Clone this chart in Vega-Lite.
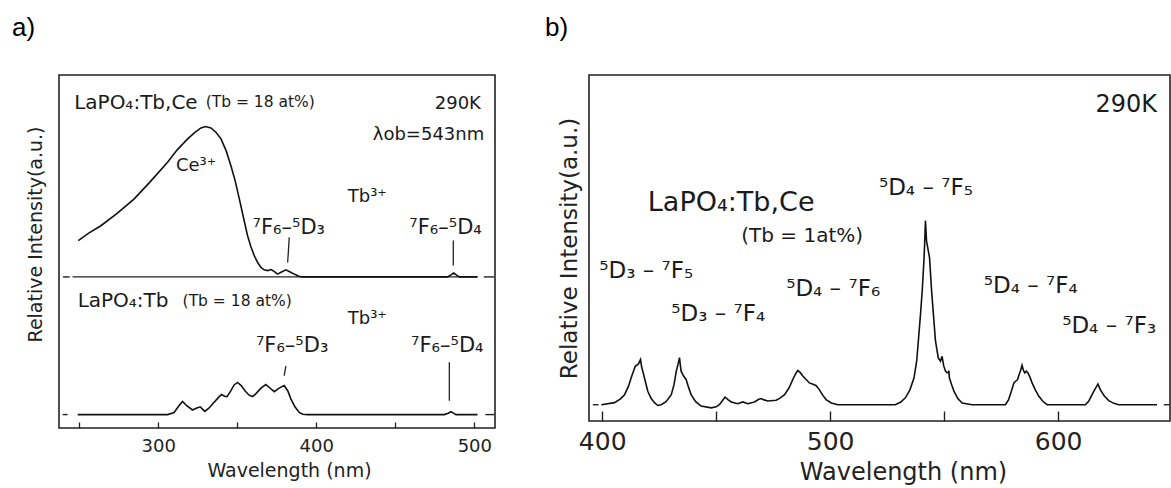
{
  "$schema": "https://vega.github.io/schema/vega-lite/v6.json",
  "padding": {"left": 11, "top": 14, "right": 0, "bottom": 0},
  "spacing": 48,
  "config": {
    "view": {"stroke": "#222", "strokeWidth": 1.6},
    "font": "DejaVu Sans",
    "axis": {"domain": false, "grid": false, "labelColor": "#222", "titleColor": "#222", "tickColor": "#222", "titleFontWeight": "normal", "labelFont": "DejaVu Sans", "titleFont": "DejaVu Sans"},
    "text": {"color": "#1a1a1a", "font": "DejaVu Sans"},
    "title": {"font": "Liberation Sans", "fontSize": 26, "fontWeight": "normal", "color": "#000", "anchor": "start", "frame": "bounds", "baseline": "alphabetic", "offset": 34}
  },
  "datasets": {
    "aspec": [
      {"s": "TbCe", "nm": 249.4, "v": 53.1}, {"s": "TbCe", "nm": 256, "v": 55.2}, {"s": "TbCe", "nm": 263.7, "v": 57.3}, {"s": "TbCe", "nm": 274, "v": 60.8}, {"s": "TbCe", "nm": 284.8, "v": 64.9}, {"s": "TbCe", "nm": 295, "v": 69.8}, {"s": "TbCe", "nm": 305.9, "v": 75.3}, {"s": "TbCe", "nm": 312, "v": 78.8}, {"s": "TbCe", "nm": 318.6, "v": 81.9}, {"s": "TbCe", "nm": 323, "v": 83.7}, {"s": "TbCe", "nm": 327, "v": 85.0}, {"s": "TbCe", "nm": 330, "v": 85.4}, {"s": "TbCe", "nm": 333.3, "v": 85.0}, {"s": "TbCe", "nm": 336.5, "v": 83.8}, {"s": "TbCe", "nm": 339.7, "v": 81.9}, {"s": "TbCe", "nm": 343, "v": 78.5}, {"s": "TbCe", "nm": 346, "v": 74.3}, {"s": "TbCe", "nm": 348.8, "v": 69.8}, {"s": "TbCe", "nm": 351.3, "v": 64.9}, {"s": "TbCe", "nm": 354, "v": 59.5}, {"s": "TbCe", "nm": 356.5, "v": 54.5}, {"s": "TbCe", "nm": 358.7, "v": 51.3}, {"s": "TbCe", "nm": 360.8, "v": 48.8}, {"s": "TbCe", "nm": 363, "v": 46.8}, {"s": "TbCe", "nm": 365, "v": 45.5}, {"s": "TbCe", "nm": 367, "v": 44.8}, {"s": "TbCe", "nm": 369.2, "v": 44.6}, {"s": "TbCe", "nm": 371.5, "v": 44.9}, {"s": "TbCe", "nm": 373.5, "v": 44.3}, {"s": "TbCe", "nm": 375.5, "v": 43.6}, {"s": "TbCe", "nm": 378, "v": 44.2}, {"s": "TbCe", "nm": 380.8, "v": 44.8}, {"s": "TbCe", "nm": 383.5, "v": 44.2}, {"s": "TbCe", "nm": 386, "v": 43.6}, {"s": "TbCe", "nm": 389, "v": 43.0}, {"s": "TbCe", "nm": 391.4, "v": 42.8}, {"s": "TbCe", "nm": 483, "v": 42.8}, {"s": "TbCe", "nm": 485, "v": 43.3}, {"s": "TbCe", "nm": 487, "v": 43.9}, {"s": "TbCe", "nm": 488.8, "v": 43.3}, {"s": "TbCe", "nm": 490.5, "v": 42.8}, {"s": "TbCe", "nm": 502, "v": 42.8},
      {"s": "Tb", "nm": 249, "v": 3.8}, {"s": "Tb", "nm": 306, "v": 3.8}, {"s": "Tb", "nm": 310, "v": 4.4}, {"s": "Tb", "nm": 313, "v": 6.2}, {"s": "Tb", "nm": 315.4, "v": 7.5}, {"s": "Tb", "nm": 318, "v": 6.3}, {"s": "Tb", "nm": 321.7, "v": 5.1}, {"s": "Tb", "nm": 324, "v": 5.6}, {"s": "Tb", "nm": 326.6, "v": 6.0}, {"s": "Tb", "nm": 329.5, "v": 4.7}, {"s": "Tb", "nm": 332, "v": 5.6}, {"s": "Tb", "nm": 335.4, "v": 7.3}, {"s": "Tb", "nm": 338, "v": 8.6}, {"s": "Tb", "nm": 340, "v": 9.5}, {"s": "Tb", "nm": 342, "v": 9.0}, {"s": "Tb", "nm": 343.5, "v": 8.9}, {"s": "Tb", "nm": 346, "v": 10.6}, {"s": "Tb", "nm": 348, "v": 12.2}, {"s": "Tb", "nm": 350.2, "v": 12.9}, {"s": "Tb", "nm": 352.5, "v": 12.0}, {"s": "Tb", "nm": 355, "v": 10.5}, {"s": "Tb", "nm": 357.5, "v": 9.3}, {"s": "Tb", "nm": 359.7, "v": 8.9}, {"s": "Tb", "nm": 362, "v": 9.8}, {"s": "Tb", "nm": 365, "v": 11.3}, {"s": "Tb", "nm": 368.1, "v": 12.3}, {"s": "Tb", "nm": 370.5, "v": 11.4}, {"s": "Tb", "nm": 373.4, "v": 10.3}, {"s": "Tb", "nm": 376.5, "v": 11.3}, {"s": "Tb", "nm": 379.7, "v": 12.0}, {"s": "Tb", "nm": 382, "v": 10.5}, {"s": "Tb", "nm": 384, "v": 8.2}, {"s": "Tb", "nm": 386.5, "v": 6.0}, {"s": "Tb", "nm": 389.2, "v": 4.4}, {"s": "Tb", "nm": 391.5, "v": 3.9}, {"s": "Tb", "nm": 394.5, "v": 3.8}, {"s": "Tb", "nm": 481, "v": 3.8}, {"s": "Tb", "nm": 483.5, "v": 4.2}, {"s": "Tb", "nm": 485.2, "v": 4.6}, {"s": "Tb", "nm": 486.8, "v": 4.2}, {"s": "Tb", "nm": 488.4, "v": 3.8}, {"s": "Tb", "nm": 502, "v": 3.8}
    ],
    "arules": [
      {"nm": 245.8, "nm2": 502, "v": 42.8}, {"nm": 239.7, "nm2": 244, "v": 42.8}, {"nm": 506, "nm2": 512.5, "v": 42.8},
      {"nm": 239.5, "nm2": 242.6, "v": 3.8}, {"nm": 507, "nm2": 512.7, "v": 3.8}
    ],
    "apointers": [
      {"nm": 382.9, "nm2": 381.9, "v": 54.0, "v2": 46.9}, {"nm": 486.7, "nm2": 486.7, "v": 53.1, "v2": 46.0},
      {"nm": 380.8, "nm2": 379.7, "v": 17.6, "v2": 14.8}, {"nm": 484.2, "nm2": 484.2, "v": 18.6, "v2": 7.7}
    ],
    "amain": [
      {"nm": 246.8, "v": 90.5, "t": "LaPO₄:Tb,Ce"}, {"nm": 249, "v": 34.3, "t": "LaPO₄:Tb"}
    ],
    "aions": [
      {"nm": 311.2, "v": 72.9, "t": "Ce³⁺"}, {"nm": 419.9, "v": 63.9, "t": "Tb³⁺"}, {"nm": 419.9, "v": 29.5, "t": "Tb³⁺"}
    ],
    "atrans": [
      {"nm": 359.7, "v": 55.0, "t": "⁷F₆–⁵D₃"}, {"nm": 458.9, "v": 55.0, "t": "⁷F₆–⁵D₄"},
      {"nm": 361.8, "v": 21.4, "t": "⁷F₆–⁵D₃"}, {"nm": 460, "v": 21.4, "t": "⁷F₆–⁵D₄"}
    ],
    "atextsmall": [
      {"nm": 330, "v": 90.8, "t": "(Tb = 18 at%)"}, {"nm": 315.4, "v": 34.5, "t": "(Tb = 18 at%)"}
    ],
    "atextright": [
      {"nm": 504.2, "v": 90.5, "t": "290K"}, {"nm": 506.3, "v": 81.6, "t": "λob=543nm"}
    ],
    "bspec": [
      {"nm": 399.6, "v": 4.7}, {"nm": 405.4, "v": 5.3}, {"nm": 408, "v": 6.4}, {"nm": 409.8, "v": 7.6}, {"nm": 411.5, "v": 10.0}, {"nm": 412.7, "v": 12.5}, {"nm": 414.5, "v": 15.8}, {"nm": 415.9, "v": 16.5}, {"nm": 416.8, "v": 17.8}, {"nm": 417.3, "v": 15.6}, {"nm": 417.8, "v": 14.4}, {"nm": 419, "v": 11.2}, {"nm": 420, "v": 8.6}, {"nm": 421.5, "v": 6.5}, {"nm": 423, "v": 5.2}, {"nm": 424.4, "v": 4.5}, {"nm": 425.9, "v": 4.7}, {"nm": 428, "v": 5.6}, {"nm": 430.3, "v": 7.6}, {"nm": 431.5, "v": 10.5}, {"nm": 432.5, "v": 14.4}, {"nm": 433.3, "v": 16.5}, {"nm": 433.9, "v": 18.3}, {"nm": 434.3, "v": 16.0}, {"nm": 434.6, "v": 14.4}, {"nm": 435.7, "v": 13.0}, {"nm": 436.8, "v": 12.0}, {"nm": 438, "v": 9.5}, {"nm": 439, "v": 7.6}, {"nm": 441, "v": 5.6}, {"nm": 443.4, "v": 4.3}, {"nm": 447.8, "v": 3.8}, {"nm": 450, "v": 4.1}, {"nm": 451.4, "v": 4.7}, {"nm": 452.8, "v": 5.9}, {"nm": 453.9, "v": 6.9}, {"nm": 455.2, "v": 6.2}, {"nm": 456.6, "v": 5.5}, {"nm": 459.5, "v": 5.0}, {"nm": 461.7, "v": 5.5}, {"nm": 463.9, "v": 5.0}, {"nm": 466.8, "v": 5.5}, {"nm": 468.5, "v": 6.2}, {"nm": 469.7, "v": 6.5}, {"nm": 471, "v": 6.1}, {"nm": 472.7, "v": 5.8}, {"nm": 476.3, "v": 6.0}, {"nm": 478, "v": 6.6}, {"nm": 480, "v": 7.6}, {"nm": 482, "v": 9.6}, {"nm": 483.6, "v": 12.0}, {"nm": 485, "v": 13.8}, {"nm": 485.8, "v": 14.6}, {"nm": 487, "v": 13.9}, {"nm": 488, "v": 13.0}, {"nm": 490.9, "v": 11.0}, {"nm": 492.5, "v": 10.6}, {"nm": 493.9, "v": 10.2}, {"nm": 495.3, "v": 9.0}, {"nm": 496.8, "v": 7.4}, {"nm": 498.2, "v": 6.2}, {"nm": 500.5, "v": 5.2}, {"nm": 503.4, "v": 4.7}, {"nm": 528.6, "v": 4.7}, {"nm": 531, "v": 5.5}, {"nm": 533, "v": 6.7}, {"nm": 535, "v": 9.0}, {"nm": 536.8, "v": 12.5}, {"nm": 538, "v": 17.5}, {"nm": 538.7, "v": 23.2}, {"nm": 539.6, "v": 30.5}, {"nm": 540.4, "v": 37.7}, {"nm": 541.2, "v": 47.2}, {"nm": 541.5, "v": 52}, {"nm": 541.8, "v": 57.9}, {"nm": 542.3, "v": 52}, {"nm": 543.6, "v": 47.2}, {"nm": 544.5, "v": 37.7}, {"nm": 545.4, "v": 30}, {"nm": 546.2, "v": 23.2}, {"nm": 547.4, "v": 18.3}, {"nm": 548.4, "v": 17.3}, {"nm": 549.1, "v": 18.7}, {"nm": 549.8, "v": 16.0}, {"nm": 550.6, "v": 14.4}, {"nm": 551.2, "v": 14.0}, {"nm": 551.8, "v": 13.9}, {"nm": 552.1, "v": 14.5}, {"nm": 552.3, "v": 12.5}, {"nm": 553.3, "v": 10.5}, {"nm": 554.3, "v": 8.6}, {"nm": 556, "v": 6.5}, {"nm": 557.9, "v": 5.2}, {"nm": 562.3, "v": 4.7}, {"nm": 576.9, "v": 4.7}, {"nm": 578.3, "v": 6.2}, {"nm": 579.5, "v": 8.6}, {"nm": 580.6, "v": 11.0}, {"nm": 581.7, "v": 11.7}, {"nm": 582.2, "v": 11.9}, {"nm": 582.7, "v": 13.0}, {"nm": 583.5, "v": 14.5}, {"nm": 584.2, "v": 16.1}, {"nm": 584.8, "v": 14.6}, {"nm": 585.4, "v": 13.9}, {"nm": 586.1, "v": 14.4}, {"nm": 586.8, "v": 13.9}, {"nm": 587.7, "v": 12.6}, {"nm": 588.6, "v": 11.0}, {"nm": 590, "v": 9.0}, {"nm": 591.5, "v": 7.2}, {"nm": 593.3, "v": 5.7}, {"nm": 595.2, "v": 4.7}, {"nm": 612, "v": 4.7}, {"nm": 613.5, "v": 5.8}, {"nm": 614.9, "v": 7.6}, {"nm": 616.2, "v": 9.2}, {"nm": 617.5, "v": 10.7}, {"nm": 618.5, "v": 9.1}, {"nm": 620.3, "v": 7.2}, {"nm": 622.2, "v": 5.9}, {"nm": 624.5, "v": 5.1}, {"nm": 626.6, "v": 4.7}, {"nm": 643.4, "v": 4.7}
    ],
    "brules": [
      {"nm": 395.9, "nm2": 398.4, "v": 4.7}, {"nm": 646.4, "nm2": 649, "v": 4.7}
    ],
    "btext": [
      {"nm": 521.4, "v": 65.2, "t": "⁵D₄ – ⁷F₅"}, {"nm": 398.7, "v": 41.4, "t": "⁵D₃ – ⁷F₅"},
      {"nm": 430.3, "v": 29.0, "t": "⁵D₃ – ⁷F₄"}, {"nm": 480.7, "v": 36.2, "t": "⁵D₄ – ⁷F₆"},
      {"nm": 567.4, "v": 37.1, "t": "⁵D₄ – ⁷F₄"}, {"nm": 601.8, "v": 25.5, "t": "⁵D₄ – ⁷F₃"}
    ],
    "btextbig": [{"nm": 420.0, "v": 60.6, "t": "LaPO₄:Tb,Ce"}],
    "btextsmall": [{"nm": 461, "v": 51.6, "t": "(Tb = 1at%)"}],
    "btextright": [{"nm": 643.4, "v": 89.3, "t": "290K"}]
  },
  "hconcat": [
    {
      "title": {"text": "a)", "dx": -14},
      "width": 436,
      "height": 353,
      "encoding": {
        "x": {"field": "nm", "type": "quantitative", "scale": {"domain": [237.2, 513.1], "nice": false, "zero": false},
          "axis": {"values": [250, 300, 350, 400, 450, 500], "labelExpr": "datum.value % 100 === 0 ? datum.label : ''", "tickSize": -6, "tickWidth": 1.3, "labelFontSize": 18, "labelPadding": 15, "title": "Wavelength (nm)", "titleFontSize": 19, "titleX": 230, "titlePadding": 6}},
        "y": {"field": "v", "type": "quantitative", "scale": {"domain": [0, 100], "nice": false, "zero": false},
          "axis": {"labels": false, "ticks": false, "title": "Relative Intensity(a.u.)", "titleFontSize": 19, "titlePadding": 14, "titleY": 159}}
      },
      "layer": [
        {"data": {"name": "arules"}, "mark": {"type": "rule", "color": "#222", "strokeWidth": 1.4}, "encoding": {"x2": {"field": "nm2"}}},
        {"data": {"name": "aspec"}, "mark": {"type": "line", "color": "#111", "strokeWidth": 1.6}, "encoding": {"detail": {"field": "s"}}},
        {"data": {"name": "apointers"}, "mark": {"type": "rule", "color": "#222", "strokeWidth": 1.3}, "encoding": {"x2": {"field": "nm2"}, "y2": {"field": "v2"}}},
        {"data": {"name": "amain"}, "mark": {"type": "text", "align": "left", "baseline": "alphabetic", "fontSize": 20}, "encoding": {"text": {"field": "t"}}},
        {"data": {"name": "aions"}, "mark": {"type": "text", "align": "left", "baseline": "alphabetic", "fontSize": 18}, "encoding": {"text": {"field": "t"}}},
        {"data": {"name": "atrans"}, "mark": {"type": "text", "align": "left", "baseline": "alphabetic", "fontSize": 21}, "encoding": {"text": {"field": "t"}}},
        {"data": {"name": "atextsmall"}, "mark": {"type": "text", "align": "left", "baseline": "alphabetic", "fontSize": 15.5}, "encoding": {"text": {"field": "t"}}},
        {"data": {"name": "atextright"}, "mark": {"type": "text", "align": "right", "baseline": "alphabetic", "fontSize": 18}, "encoding": {"text": {"field": "t"}}}
      ]
    },
    {
      "title": {"text": "b)", "dx": -13},
      "width": 581,
      "height": 346,
      "encoding": {
        "x": {"field": "nm", "type": "quantitative", "scale": {"domain": [394.2, 649.1], "nice": false, "zero": false},
          "axis": {"values": [400, 450, 500, 550, 600], "labelExpr": "datum.value % 100 === 0 ? datum.label : ''", "tickSize": -10, "tickWidth": 1.4, "labelFontSize": 25, "labelPadding": 18, "title": "Wavelength (nm)", "titleFontSize": 24, "titleX": 314, "titlePadding": 6}},
        "y": {"field": "v", "type": "quantitative", "scale": {"domain": [0, 100], "nice": false, "zero": false},
          "axis": {"labels": false, "ticks": false, "title": "Relative Intensity(a.u.)", "titleFontSize": 23, "titlePadding": 8}}
      },
      "layer": [
        {"data": {"name": "brules"}, "mark": {"type": "rule", "color": "#222", "strokeWidth": 1.4}, "encoding": {"x2": {"field": "nm2"}}},
        {"data": {"name": "bspec"}, "mark": {"type": "line", "color": "#111", "strokeWidth": 1.6}, "encoding": {}},
        {"data": {"name": "btext"}, "mark": {"type": "text", "align": "left", "baseline": "alphabetic", "fontSize": 23}, "encoding": {"text": {"field": "t"}}},
        {"data": {"name": "btextbig"}, "mark": {"type": "text", "align": "left", "baseline": "alphabetic", "fontSize": 27}, "encoding": {"text": {"field": "t"}}},
        {"data": {"name": "btextsmall"}, "mark": {"type": "text", "align": "left", "baseline": "alphabetic", "fontSize": 20}, "encoding": {"text": {"field": "t"}}},
        {"data": {"name": "btextright"}, "mark": {"type": "text", "align": "right", "baseline": "alphabetic", "fontSize": 24}, "encoding": {"text": {"field": "t"}}}
      ]
    }
  ]
}
